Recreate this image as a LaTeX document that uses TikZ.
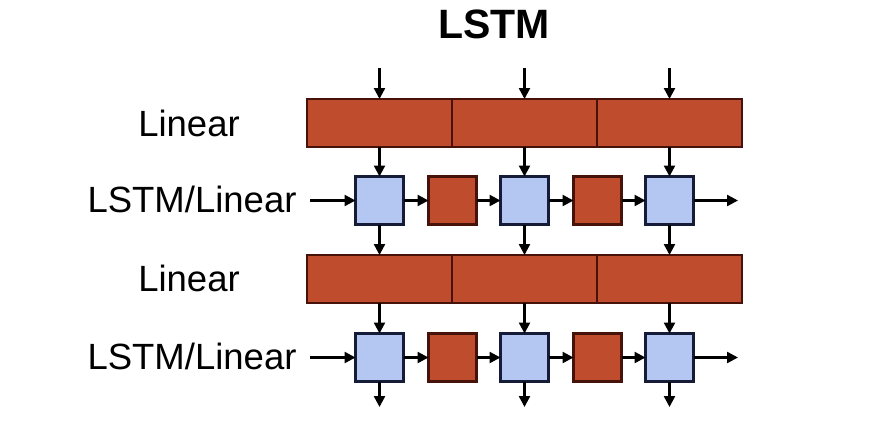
\documentclass[tikz,border=0pt]{standalone}
\usepackage{fontspec}
\setmainfont{Liberation Sans}
\usetikzlibrary{arrows.meta}
\definecolor{redfill}{RGB}{191,76,45}
\definecolor{redline}{RGB}{70,18,10}
\definecolor{bluefill}{RGB}{180,198,242}
\definecolor{blueline}{RGB}{22,28,55}
\begin{document}
\begin{tikzpicture}[x=1pt,y=-1pt,
  seg/.style={draw=redline,fill=redfill,line width=2.6pt,minimum width=145pt,minimum height=48pt,inner sep=0pt,outer sep=0pt},
  lstmbox/.style={draw=blueline,fill=bluefill,line width=2.6pt,minimum width=48pt,minimum height=48pt,inner sep=0pt,outer sep=0pt},
  linbox/.style={draw=redline,fill=redfill,line width=2.6pt,minimum width=48pt,minimum height=48pt,inner sep=0pt,outer sep=0pt},
  lab/.style={font=\fontsize{36.5}{40}\selectfont,inner sep=0pt},
  arr/.style={line width=2.4pt,-{Triangle[length=11pt,width=11pt]}}]
\useasboundingbox (0,0) rectangle (872,432);
\fill[white] (0,0) rectangle (872,432);

\node[font=\fontsize{41}{44}\selectfont\bfseries,inner sep=0pt] (title) at (494,24) {LSTM};

\node[lab,anchor=base] (lab1) at (189,136) {Linear};
\node[lab,anchor=base] (lab2) at (192,212) {LSTM/Linear};
\node[lab,anchor=base] (lab3) at (189,291) {Linear};
\node[lab,anchor=base] (lab4) at (192,369) {LSTM/Linear};

% layer 1 linear bar
\node[seg] (a1) at (379.5,123) {};
\node[seg] (a2) at (524.5,123) {};
\node[seg] (a3) at (669.5,123) {};
% layer 1 lstm row
\node[lstmbox] (b1) at (379.5,200.5) {};
\node[linbox]  (r1) at (452.5,200.5) {};
\node[lstmbox] (b2) at (524.5,200.5) {};
\node[linbox]  (r2) at (597.5,200.5) {};
\node[lstmbox] (b3) at (669.5,200.5) {};
% layer 2 linear bar
\node[seg] (c1) at (379.5,279) {};
\node[seg] (c2) at (524.5,279) {};
\node[seg] (c3) at (669.5,279) {};
% layer 2 lstm row
\node[lstmbox] (d1) at (379.5,357.5) {};
\node[linbox]  (s1) at (452.5,357.5) {};
\node[lstmbox] (d2) at (524.5,357.5) {};
\node[linbox]  (s2) at (597.5,357.5) {};
\node[lstmbox] (d3) at (669.5,357.5) {};

% free ends
\coordinate (t1) at (379.5,68);
\coordinate (t2) at (524.5,68);
\coordinate (t3) at (669.5,68);
\coordinate (in1) at (310,200.5);
\coordinate (out1) at (738,200.5);
\coordinate (in2) at (310,357.5);
\coordinate (out2) at (738,357.5);
\coordinate (e1) at (379.5,407);
\coordinate (e2) at (524.5,407);
\coordinate (e3) at (669.5,407);

\foreach \i in {1,2,3}{
  \draw[arr] (t\i) -- (a\i.north);
  \draw[arr] (a\i.south) -- (b\i.north);
  \draw[arr] (b\i.south) -- (c\i.north);
  \draw[arr] (c\i.south) -- (d\i.north);
  \draw[arr] (d\i.south) -- (e\i);
}
\draw[arr] (in1) -- (b1.west);
\draw[arr] (b1.east) -- (r1.west);
\draw[arr] (r1.east) -- (b2.west);
\draw[arr] (b2.east) -- (r2.west);
\draw[arr] (r2.east) -- (b3.west);
\draw[arr] (b3.east) -- (out1);
\draw[arr] (in2) -- (d1.west);
\draw[arr] (d1.east) -- (s1.west);
\draw[arr] (s1.east) -- (d2.west);
\draw[arr] (d2.east) -- (s2.west);
\draw[arr] (s2.east) -- (d3.west);
\draw[arr] (d3.east) -- (out2);
\end{tikzpicture}
\end{document}
